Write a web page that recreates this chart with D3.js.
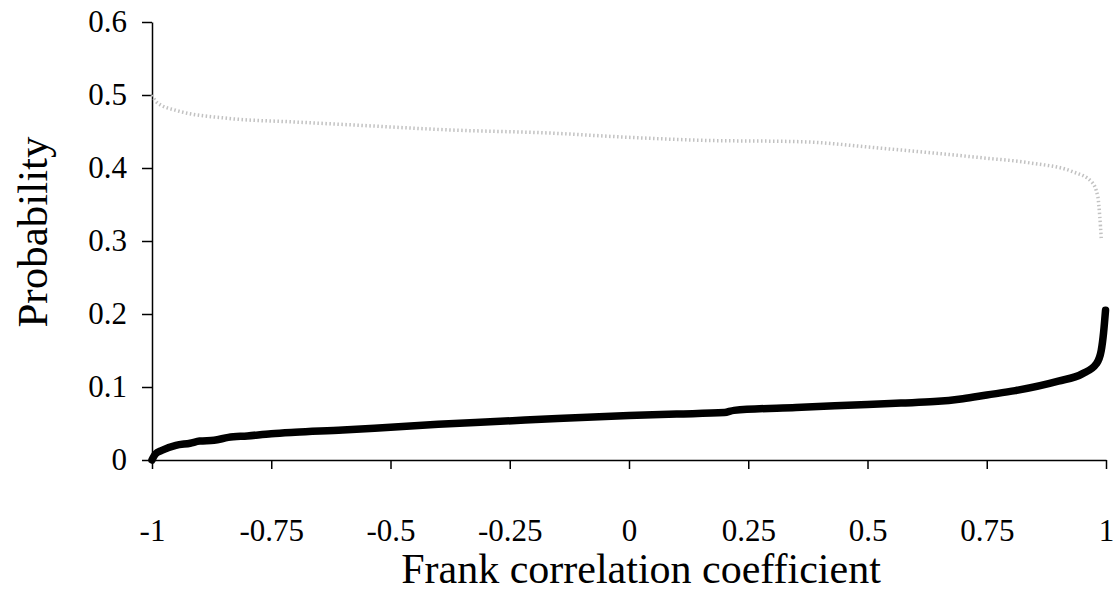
<!DOCTYPE html>
<html>
<head>
<meta charset="utf-8">
<script src="https://cdn.jsdelivr.net/npm/d3@7"></script>
<style>
  html, body { margin: 0; padding: 0; background: #fff; }
  svg { display: block; }
  text { font-family: "Liberation Serif", "Times New Roman", serif; fill: #000; }
</style>
</head>
<body>
<svg id="chart" width="1113" height="594"></svg>
<script>
// ---- data ----
const xTicks = [-1, -0.75, -0.5, -0.25, 0, 0.25, 0.5, 0.75, 1];
const xTickLabels = ["-1", "-0.75", "-0.5", "-0.25", "0", "0.25", "0.5", "0.75", "1"];
const yTicks = [0, 0.1, 0.2, 0.3, 0.4, 0.5, 0.6];
const yTickLabels = ["0", "0.1", "0.2", "0.3", "0.4", "0.5", "0.6"];

const blackX = [-1, -0.993, -0.98, -0.95, -0.92, -0.9, -0.87, -0.84, -0.8, -0.75, -0.7, -0.6, -0.5, -0.4, -0.27, -0.15, 0, 0.1, 0.2, 0.22, 0.35, 0.5, 0.57, 0.64, 0.7, 0.75, 0.81, 0.9, 0.95, 0.98, 0.99, 0.995, 0.999];
const blackY = [0.000, 0.008, 0.013, 0.020, 0.023, 0.026, 0.027, 0.031, 0.033, 0.036, 0.038, 0.041, 0.045, 0.049, 0.053, 0.057, 0.061, 0.063, 0.065, 0.068, 0.072, 0.076, 0.078, 0.080, 0.084, 0.089, 0.095, 0.108, 0.118, 0.132, 0.150, 0.175, 0.205];

const grayX = [-1, -0.99, -0.95, -0.84, -0.7, -0.58, -0.37, -0.17, 0, 0.15, 0.36, 0.53, 0.74, 0.84, 0.93, 0.97, 0.983, 0.987, 0.99];
const grayY = [0.500, 0.490, 0.479, 0.468, 0.463, 0.459, 0.452, 0.448, 0.442, 0.438, 0.436, 0.427, 0.414, 0.407, 0.395, 0.381, 0.360, 0.333, 0.304];

const xTitle = "Frank correlation coefficient";
const yTitle = "Probability";

// ---- layout ----
const svg = d3.select("#chart");
const x = d3.scaleLinear().domain([-1, 1]).range([152, 1106]);
const y = d3.scaleLinear().domain([0, 0.6]).range([460, 22]);

// axes
const xAxis = d3.axisBottom(x).tickValues(xTicks)
  .tickFormat((d, i) => xTickLabels[i]).tickSizeInner(9).tickSizeOuter(0).tickPadding(50);
const yAxis = d3.axisLeft(y).tickValues(yTicks)
  .tickFormat((d, i) => yTickLabels[i]).tickSizeInner(10).tickSizeOuter(0).tickPadding(15);

const gx = svg.append("g").attr("transform", "translate(0,460)").call(xAxis);
const gy = svg.append("g").attr("transform", "translate(152,0)").call(yAxis);
[gx, gy].forEach(g => {
  g.select(".domain").attr("stroke", "#000").attr("stroke-width", 1.5);
  g.selectAll(".tick line").attr("stroke", "#000").attr("stroke-width", 1.5);
  g.selectAll(".tick text").style("font-family", '"Liberation Serif", serif').style("font-size", "31px").attr("fill", "#000");
});

// lines
const line = d3.line().x(d => x(d[0])).y(d => y(d[1])).curve(d3.curveMonotoneX);
const grayData = grayX.map((v, i) => [v, grayY[i]]);
const blackData = blackX.map((v, i) => [v, blackY[i]]);

svg.append("path").datum(grayData)
  .attr("d", line)
  .attr("fill", "none").attr("stroke", "#c2c2c2").attr("stroke-width", 3.5)
  .attr("stroke-dasharray", "1.5,2.5");

svg.append("path").datum(blackData)
  .attr("d", line)
  .attr("fill", "none").attr("stroke", "#000").attr("stroke-width", 7.5)
  .attr("stroke-linecap", "round").attr("stroke-linejoin", "round");

// titles
svg.append("text").attr("x", 641).attr("y", 583).attr("text-anchor", "middle")
  .style("font-size", "42px").text(xTitle);
svg.append("text").attr("transform", "translate(47,232) rotate(-90)").attr("text-anchor", "middle")
  .style("font-size", "43px").text(yTitle);
</script>
</body>
</html>
